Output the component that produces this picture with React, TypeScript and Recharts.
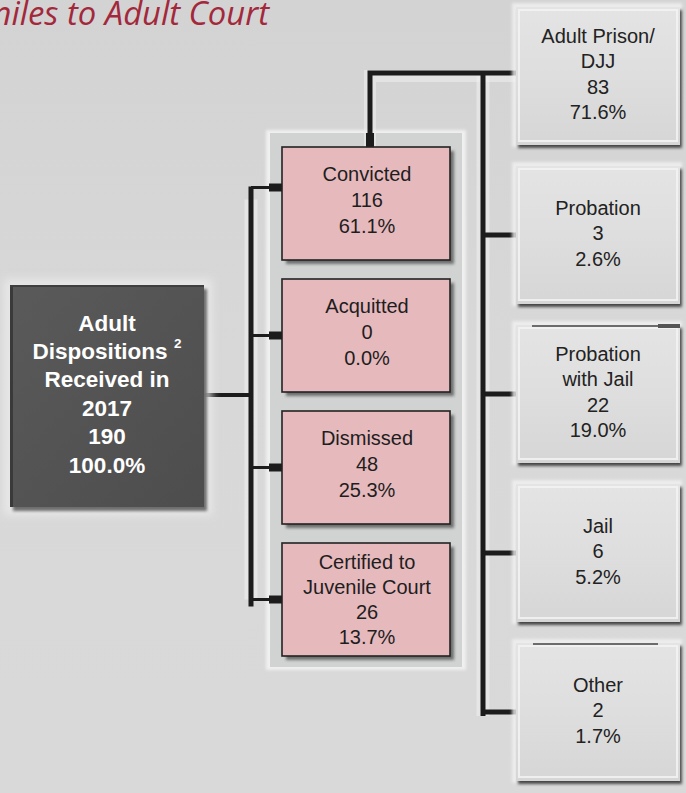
import React from "react";
import { ScatterChart, Scatter, XAxis, YAxis } from "recharts";

// ---------- data ----------
const titleText = "Juveniles to Adult Court";

const totalLabel = ["Adult", "Dispositions", "Received in", "2017"];
const totalCount = [190];
const totalPercent = [100.0];

const outcomeLabels = [["Convicted"], ["Acquitted"], ["Dismissed"], ["Certified to", "Juvenile Court"]];
const outcomeCounts = [116, 0, 48, 26];
const outcomePercents = [61.1, 0.0, 25.3, 13.7];

const sentenceLabels = [["Adult Prison/", "DJJ"], ["Probation"], ["Probation", "with Jail"], ["Jail"], ["Other"]];
const sentenceCounts = [83, 3, 22, 6, 2];
const sentencePercents = [71.6, 2.6, 19.0, 5.2, 1.7];

// ---------- layout (style) ----------
const W = 686;
const H = 793;
const FONT = "'Liberation Sans', Arial, Helvetica, sans-serif";
const fmtPct = (v: number) => v.toFixed(1) + "%";

const LEFT = { cx: 107, cy: 396, w: 194, h: 222 };
const MID = { cx: 366, w: 168, h: 113, top: 147, pitch: 132 };
const RIGHT = { cx: 598, w: 164, h: 138, top: 7, pitch: 159 };
const LEFT_BUS_X = 251;
const RIGHT_BUS_X = 483;
const RISER_X = 370;

const midY = (i: number) => MID.top + MID.h / 2 + i * MID.pitch;
const rightY = (i: number) => RIGHT.top + RIGHT.h / 2 + i * RIGHT.pitch;
const midLeft = MID.cx - MID.w / 2;
const rightLeft = RIGHT.cx - RIGHT.w / 2;

const totalData = [
  {
    x: LEFT.cx,
    y: LEFT.cy,
    lines: [...totalLabel, String(totalCount[0]), fmtPct(totalPercent[0])],
  },
];
const outcomeData = outcomeLabels.map((l, i) => ({
  x: MID.cx,
  y: midY(i),
  lines: [...l, String(outcomeCounts[i]), fmtPct(outcomePercents[i])],
}));
const sentenceData = sentenceLabels.map((l, i) => ({
  x: RIGHT.cx,
  y: rightY(i),
  lines: [...l, String(sentenceCounts[i]), fmtPct(sentencePercents[i])],
}));

const panelTop = MID.top - 14;
const panelBottom = midY(outcomeLabels.length - 1) + MID.h / 2 + 11;
const panelData = [{ x: MID.cx, y: (panelTop + panelBottom) / 2 }];

// connectors (as point lists, drawn through scales)
type Pt = { x: number; y: number };
type Conn = { pts: Pt[]; w: number; color: string; op?: number };
const darkC = "#1c1c1c";
const haloC = "#efefef";
const connectors: Conn[] = [];
const lastMid = outcomeLabels.length - 1;
const lastRight = sentenceLabels.length - 1;
// halos
connectors.push({ pts: [{ x: LEFT_BUS_X, y: midY(0) - 4 }, { x: LEFT_BUS_X, y: midY(lastMid) }], w: 13, color: haloC, op: 0.6 });
connectors.push({ pts: [{ x: RIGHT_BUS_X, y: rightY(0) }, { x: RIGHT_BUS_X, y: rightY(lastRight) + 4 }], w: 13, color: haloC, op: 0.6 });
connectors.push({ pts: [{ x: RISER_X, y: MID.top }, { x: RISER_X, y: rightY(0) }, { x: rightLeft, y: rightY(0) }], w: 12, color: haloC, op: 0.55 });
// feed from total box
connectors.push({ pts: [{ x: LEFT.cx + LEFT.w / 2, y: LEFT.cy - 1 }, { x: LEFT_BUS_X, y: LEFT.cy - 1 }], w: 4, color: darkC });
// left bus
connectors.push({ pts: [{ x: LEFT_BUS_X, y: midY(0) - 17 }, { x: LEFT_BUS_X, y: midY(lastMid) + 7 }], w: 5, color: darkC });
outcomeLabels.forEach((_, i) => {
  const y = i === 0 ? midY(i) - 16 : midY(i);
  connectors.push({ pts: [{ x: LEFT_BUS_X, y }, { x: midLeft, y }], w: 3, color: darkC });
});
// riser from Convicted to sentences
connectors.push({ pts: [{ x: RISER_X, y: MID.top }, { x: RISER_X, y: rightY(0) - 3 }, { x: rightLeft, y: rightY(0) - 3 }], w: 5, color: darkC });
// right bus
connectors.push({ pts: [{ x: RIGHT_BUS_X, y: rightY(0) - 3 }, { x: RIGHT_BUS_X, y: rightY(lastRight) + 4 }], w: 5, color: darkC });
sentenceLabels.forEach((_, i) => {
  if (i === 0) return;
  connectors.push({ pts: [{ x: RIGHT_BUS_X, y: rightY(i) }, { x: rightLeft, y: rightY(i) }], w: 5, color: darkC });
});
// stubs (over the panel)
const stubs: Conn[] = [];
outcomeLabels.forEach((_, i) => {
  const y = i === 0 ? midY(i) - 16 : midY(i);
  stubs.push({ pts: [{ x: midLeft - 13, y }, { x: midLeft, y }], w: 8, color: darkC });
});
stubs.push({ pts: [{ x: RISER_X, y: panelTop }, { x: RISER_X, y: MID.top }], w: 8, color: darkC });

// thin rules seen across the tops of two sentence boxes
const rules: Conn[] = [
  { pts: [{ x: rightLeft + 16, y: rightY(2) - RIGHT.h / 2 + 1 }, { x: RIGHT.cx + RIGHT.w / 2, y: rightY(2) - RIGHT.h / 2 + 1 }], w: 1.6, color: "#444" },
  { pts: [{ x: RIGHT.cx + RIGHT.w / 2 - 22, y: rightY(2) - RIGHT.h / 2 + 1 }, { x: RIGHT.cx + RIGHT.w / 2, y: rightY(2) - RIGHT.h / 2 + 1 }], w: 4, color: "#555" },
  { pts: [{ x: rightLeft + 17, y: rightY(4) - RIGHT.h / 2 + 1 }, { x: RIGHT.cx + RIGHT.w / 2 - 22, y: rightY(4) - RIGHT.h / 2 + 1 }], w: 1.6, color: "#444" },
];

// ---------- shapes ----------
function TextLines(props: {
  cx: number;
  cy: number;
  lines: string[];
  size: number;
  gap: number;
  color: string;
  weight?: string | number;
  sup?: string;
}) {
  const { cx, cy, lines, size, gap, color, weight, sup } = props;
  const n = lines.length;
  return (
    <g>
      {lines.map((t, i) => (
        <text
          key={i}
          x={cx}
          y={cy + (i - (n - 1) / 2) * gap}
          textAnchor="middle"
          dominantBaseline="central"
          fontFamily={FONT}
          fontSize={size}
          fontWeight={weight ?? "normal"}
          fill={color}
        >
          {sup && t === sup ? (
            <>
              <tspan>{t + " "}</tspan>
              <tspan fontSize={size * 0.6} dy={-size * 0.38}>
                2
              </tspan>
            </>
          ) : (
            t
          )}
        </text>
      ))}
    </g>
  );
}

function PanelShape(props: any) {
  const { cx, cy } = props;
  const w = MID.w + 24;
  const h = panelBottom - panelTop;
  return (
    <g>
      <defs>
        <filter id="soft" x="-20%" y="-20%" width="140%" height="140%">
          <feGaussianBlur stdDeviation="1.6" />
        </filter>
        <filter id="glow" x="-20%" y="-20%" width="140%" height="140%">
          <feGaussianBlur stdDeviation="4" />
        </filter>
        <linearGradient id="rightFill" x1="0" y1="0" x2="0" y2="1">
          <stop offset="0" stopColor="#e4e4e4" />
          <stop offset="0.5" stopColor="#dedede" />
          <stop offset="1" stopColor="#d6d6d6" />
        </linearGradient>
        <linearGradient id="darkFill" x1="0" y1="0" x2="1" y2="1">
          <stop offset="0" stopColor="#5a5a5a" />
          <stop offset="1" stopColor="#4d4d4d" />
        </linearGradient>
      </defs>
      <text
        x={269}
        y={25}
        textAnchor="end"
        fontFamily="'Open Sans', 'Noto Sans', sans-serif"
        fontStyle="italic"
        fontSize={32.8}
        fill="#a3283b"
      >
        {titleText}
      </text>
      <rect x={cx - w / 2 - 4} y={cy - h / 2 - 3} width={w + 8} height={h + 6} fill="#f0f0f0" filter="url(#soft)" />
      <rect x={cx - w / 2} y={cy - h / 2} width={w} height={h} fill="#d1d3d3" />
    </g>
  );
}

function TotalShape(props: any) {
  const { cx, cy } = props;
  const p = props.payload ?? props;
  const x = cx - LEFT.w / 2;
  const y = cy - LEFT.h / 2;
  return (
    <g>
      <rect x={x - 6} y={y - 6} width={LEFT.w + 14} height={LEFT.h + 14} fill="#ededed" opacity={0.75} filter="url(#glow)" />
      <rect x={x + 3} y={y + 4} width={LEFT.w} height={LEFT.h} fill="#6e6e6e" filter="url(#soft)" />
      <rect x={x} y={y} width={LEFT.w} height={LEFT.h} fill="url(#darkFill)" />
      <rect x={x} y={y} width={3} height={LEFT.h} fill="#3a3a3a" />
      <rect x={x} y={y} width={LEFT.w} height={2} fill="#3f3f3f" />
      <TextLines cx={cx} cy={cy - 2} lines={p.lines} size={22.5} gap={28.4} color="#ffffff" weight="bold" sup="Dispositions" />
    </g>
  );
}

function OutcomeShape(props: any) {
  const { cx, cy } = props;
  const p = props.payload ?? props;
  const x = cx - MID.w / 2;
  const y = cy - MID.h / 2;
  const n = p.lines.length;
  return (
    <g>
      <rect x={x + 4} y={y + 4} width={MID.w} height={MID.h} fill="#555" opacity={0.8} filter="url(#soft)" />
      <rect x={x} y={y} width={MID.w} height={MID.h} fill="#e6b9bd" stroke="#222" strokeWidth={1.6} />
      <TextLines cx={cx + 1} cy={n > 3 ? cy : cy - 4} lines={p.lines} size={20} gap={n > 3 ? 25 : 26} color="#1e1e1e" />
    </g>
  );
}

function SentenceShape(props: any) {
  const { cx, cy } = props;
  const p = props.payload ?? props;
  const x = cx - RIGHT.w / 2;
  const y = cy - RIGHT.h / 2;
  return (
    <g>
      <rect x={x - 4} y={y - 4} width={RIGHT.w + 6} height={RIGHT.h + 6} fill="#f2f2f2" opacity={0.8} filter="url(#soft)" />
      <rect x={x + 2} y={y + 3} width={RIGHT.w} height={RIGHT.h} fill="#444" filter="url(#soft)" />
      <rect x={x} y={y} width={RIGHT.w} height={RIGHT.h} fill="url(#rightFill)" />
      <rect x={x + 3} y={y + 3} width={RIGHT.w - 6} height={RIGHT.h - 7} fill="none" stroke="#f3f3f3" strokeWidth={2} opacity={0.85} />
      <TextLines cx={cx} cy={cy - 2} lines={p.lines} size={20} gap={25.5} color="#222" />
    </g>
  );
}

const NoDot = () => <g />;

function connSeries(list: Conn[], prefix: string) {
  return list.map((c, i) => (
    <Scatter
      key={prefix + i}
      data={c.pts}
      shape={NoDot}
      line={{ stroke: c.color, strokeWidth: c.w, strokeOpacity: c.op ?? 1, strokeLinejoin: "miter", strokeLinecap: "butt" }}
      lineType="joint"
      isAnimationActive={false}
    />
  ));
}

export default function App() {
  return (
    <div
      style={{
        position: "absolute",
        left: 0,
        top: 0,
        width: W,
        height: H,
        background: "linear-gradient(180deg, #d3d3d3 0%, #d8d8d8 45%, #d9d9d9 100%)",
        overflow: "hidden",
      }}
    >
      <ScatterChart width={W} height={H} margin={{ top: 0, right: 0, bottom: 0, left: 0 }}>
        <XAxis type="number" dataKey="x" domain={[0, W]} hide allowDataOverflow />
        <YAxis type="number" dataKey="y" domain={[0, H]} reversed hide allowDataOverflow />
        <Scatter data={panelData} shape={PanelShape} isAnimationActive={false} />
        {connSeries(connectors, "c")}
        {connSeries(stubs, "s")}
        <Scatter data={totalData} shape={TotalShape} isAnimationActive={false} />
        <Scatter data={outcomeData} shape={OutcomeShape} isAnimationActive={false} />
        <Scatter data={sentenceData} shape={SentenceShape} isAnimationActive={false} />
        {connSeries(rules, "r")}
      </ScatterChart>
    </div>
  );
}
